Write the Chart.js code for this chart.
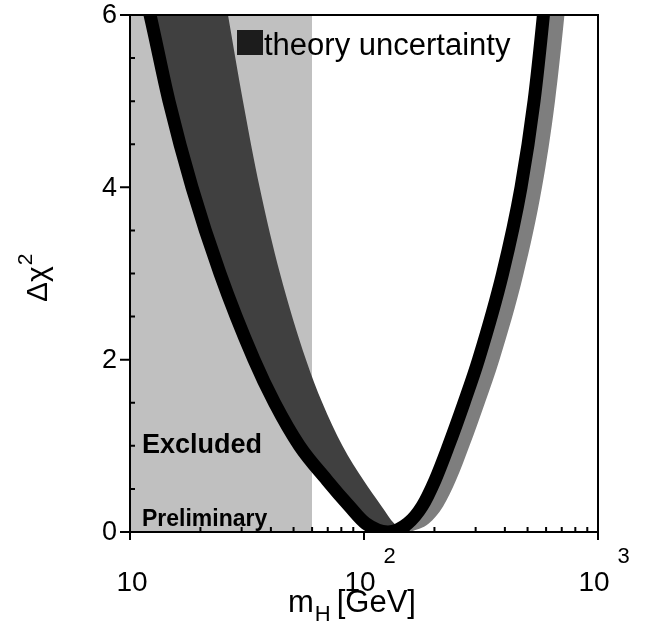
<!DOCTYPE html>
<html>
<head>
<meta charset="utf-8">
<script src="https://cdn.jsdelivr.net/npm/chart.js@4.4.1/dist/chart.umd.min.js"></script>
<style>
  html, body { margin: 0; padding: 0; background: #fff; }
  #wrap { width: 650px; height: 628px; }
</style>
</head>
<body>
<div id="wrap"><canvas id="myChart" width="650" height="628"></canvas></div>
<script>
// central fit curve (thick black line)
const massFit = [10.97, 12.18, 14.68, 18.41, 24.25, 33.88, 41.45, 53.0, 69.5, 86.55, 101.6, 126.6,
                 153.9, 177.3, 201.1, 229.7, 267.6, 308.6, 391.2, 468.8, 532.9, 584.4, 607.8, 760];
const chi2Fit = [6.5, 6.0, 5.0, 4.0, 3.0, 2.0, 1.5, 1.0, 0.6, 0.3, 0.1, 0,
                 0.1, 0.3, 0.6, 1.0, 1.5, 2.0, 3.0, 4.0, 5.0, 6.0, 6.5, 7.5];

// outer edge of the theory uncertainty band, low mass side
const massBandLow = [10.97, 22.86, 24.39, 26.23, 30.40, 35.81, 43.76, 56.51, 66.34, 80.88, 99.51, 118.8, 134.6, 157.3];
const chi2BandLow = [7.5, 7.0, 6.5, 6.0, 5.0, 4.0, 3.0, 2.0, 1.5, 1.0, 0.6, 0.3, 0.1, 0];

// outer edge of the band, high mass side
const massBandHigh = [157.3, 189.2, 218.0, 247.3, 282.4, 328.9, 379.4, 481.0, 576.3, 654.9, 718.7, 747.6];
const chi2BandHigh = [0, 0.1, 0.3, 0.6, 1.0, 1.5, 2.0, 3.0, 4.0, 5.0, 6.0, 6.5];

// direct search exclusion
const massExcluded = [10, 60];
const chi2Excluded = [6, 6];

// axes
const yTicks = [0, 2, 4, 6];
const yMinorTicks = [0.5, 1, 1.5, 2.5, 3, 3.5, 4.5, 5, 5.5];
const xTicks = [10, 100, 1000];
const xTickExp = ['', '2', '3'];
const xMinorTicks = [20, 30, 40, 50, 60, 70, 80, 90, 200, 300, 400, 500, 600, 700, 800, 900];

const FONT = '"Liberation Sans", Arial, Helvetica, sans-serif';

function pts(xs, ys) {
    return xs.map((v, i) => ({x: v, y: ys[i]}));
}

const frame = {
    id: 'frame',
    afterDatasetsDraw(chart) {
        const ctx = chart.ctx;
        const a = chart.chartArea;
        const x = chart.scales.x;
        const y = chart.scales.y;
        ctx.save();
        ctx.strokeStyle = '#000';
        ctx.fillStyle = '#000';
        ctx.lineWidth = 2;
        ctx.strokeRect(a.left, a.top, a.right - a.left, a.bottom - a.top);

        ctx.beginPath();
        yTicks.forEach(v => {
            let py = y.getPixelForValue(v);
            ctx.moveTo(a.left - 10, py); ctx.lineTo(a.left, py);
        });
        yMinorTicks.forEach(v => {
            let py = y.getPixelForValue(v);
            ctx.moveTo(a.left, py); ctx.lineTo(a.left + 5, py);
        });
        xTicks.forEach(v => {
            let px = x.getPixelForValue(v);
            ctx.moveTo(px, a.bottom); ctx.lineTo(px, a.bottom + 8);
        });
        xMinorTicks.forEach(v => {
            let px = x.getPixelForValue(v);
            ctx.moveTo(px, a.bottom); ctx.lineTo(px, a.bottom - 5);
        });
        ctx.stroke();

        // y tick labels
        ctx.font = '27px ' + FONT;
        ctx.textAlign = 'right';
        ctx.textBaseline = 'middle';
        yTicks.forEach(v => {
            ctx.fillText(String(v), a.left - 13, y.getPixelForValue(v) + 1);
        });

        // x tick labels (10, 10^2, 10^3)
        ctx.textBaseline = 'alphabetic';
        xTicks.forEach((v, i) => {
            let px = x.getPixelForValue(v);
            ctx.font = '28px ' + FONT;
            ctx.textAlign = 'center';
            let cx = xTickExp[i] ? px - 4 : px + 2;
            ctx.fillText('10', cx, 591);
            if (xTickExp[i]) {
                let w = ctx.measureText('10').width;
                ctx.font = '22px ' + FONT;
                ctx.textAlign = 'left';
                ctx.fillText(xTickExp[i], cx + w / 2 + 8, 563);
            }
        });

        // x axis title: m_H [GeV]
        ctx.textAlign = 'left';
        ctx.font = '31px ' + FONT;
        let tx = 288;
        ctx.fillText('m', tx, 612);
        tx += ctx.measureText('m').width + 1;
        ctx.font = '22px ' + FONT;
        ctx.fillText('H', tx, 621);
        tx += ctx.measureText('H').width + 6;
        ctx.font = '31px ' + FONT;
        ctx.fillText('[GeV]', tx, 612);

        // y axis title: Δχ²
        ctx.save();
        ctx.translate(47, 302);
        ctx.rotate(-Math.PI / 2);
        ctx.font = '30px ' + FONT;
        ctx.fillText('Δχ', 0, 0);
        let wy = ctx.measureText('Δχ').width;
        ctx.font = '21px ' + FONT;
        ctx.fillText('2', wy + 1, -15);
        ctx.restore();

        // legend
        ctx.fillStyle = '#1c1c1c';
        ctx.fillRect(a.left + 107, a.top + 15, 26, 25);
        ctx.fillStyle = '#000';
        ctx.font = '31px ' + FONT;
        ctx.fillText('theory uncertainty', a.left + 134, a.top + 40);

        // annotations in the excluded region
        ctx.font = 'bold 27px ' + FONT;
        ctx.fillText('Excluded', a.left + 12, 453);
        ctx.font = 'bold 23px ' + FONT;
        ctx.fillText('Preliminary', a.left + 12, 526);
        ctx.restore();
    }
};

let ctx = document.getElementById('myChart').getContext('2d');
let chart = new Chart(ctx, {
    type: 'line',
    data: {
        datasets: [
            {
                label: 'fit',
                data: pts(massFit, chi2Fit),
                borderColor: '#000',
                borderWidth: 13,
                borderJoinStyle: 'round',
                cubicInterpolationMode: 'monotone',
                pointRadius: 0,
                fill: false,
                clip: 0,
                order: 0
            },
            {
                label: 'band low',
                data: pts(massBandLow, chi2BandLow),
                borderColor: 'rgba(0,0,0,0)',
                borderWidth: 0,
                backgroundColor: '#404040',
                cubicInterpolationMode: 'monotone',
                pointRadius: 0,
                fill: '-1',
                clip: 0,
                order: 1
            },
            {
                label: 'band high',
                data: pts(massBandHigh, chi2BandHigh),
                borderColor: 'rgba(0,0,0,0)',
                borderWidth: 0,
                backgroundColor: '#7e7e7e',
                cubicInterpolationMode: 'monotone',
                pointRadius: 0,
                fill: '-2',
                clip: 0,
                order: 1
            },
            {
                label: 'excluded',
                data: pts(massExcluded, chi2Excluded),
                borderColor: 'rgba(0,0,0,0)',
                borderWidth: 0,
                backgroundColor: '#c0c0c0',
                pointRadius: 0,
                fill: 'origin',
                clip: 0,
                order: 2
            }
        ]
    },
    options: {
        responsive: false,
        animation: false,
        devicePixelRatio: 1,
        layout: { padding: { left: 130, right: 52, top: 15, bottom: 96 } },
        plugins: {
            legend: { display: false },
            tooltip: { enabled: false }
        },
        scales: {
            x: { type: 'logarithmic', min: 10, max: 1000, display: false },
            y: { type: 'linear', min: 0, max: 6, display: false }
        }
    },
    plugins: [frame]
});
</script>
</body>
</html>
